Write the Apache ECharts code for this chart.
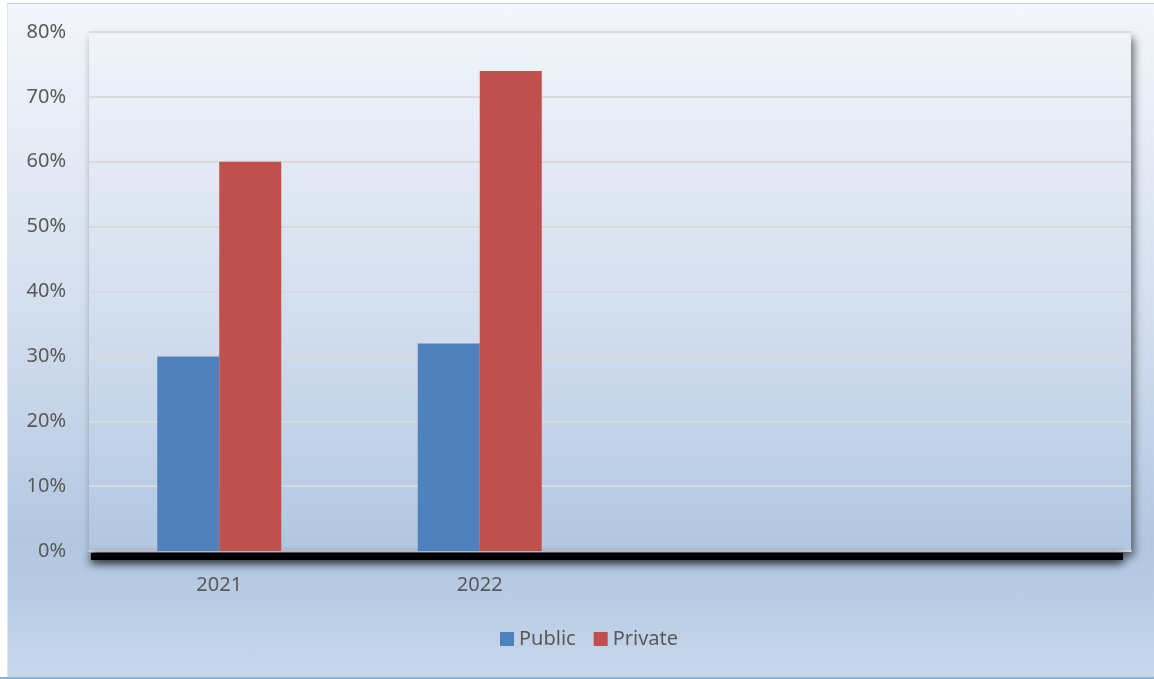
<!DOCTYPE html>
<html>
<head>
<meta charset="utf-8">
<script src="https://cdn.jsdelivr.net/npm/echarts@6/dist/echarts.min.js"></script>
<style>
  html, body { margin: 0; padding: 0; background: #ffffff; width: 1154px; height: 679px; overflow: hidden; }
  #frame {
    position: absolute; left: 7px; top: 3px; width: 1160px; height: 672px;
    border-left: 1px solid #dfe4ec; border-top: 1px solid #d2d2d2; border-bottom: 2px solid #d9d3cc;
    background: linear-gradient(to bottom, #f3f6fb 0%, #e2e9f4 25%, #d0dcec 50%, #b3c7e1 80%, #b8cbe3 88%, #c9d8eb 100%);
  }
  #strip { position: absolute; left: 0; top: 677px; width: 1154px; height: 2px; background: #8db3e2; }
  #chart { position: absolute; left: 0; top: 0; width: 1154px; height: 679px; }
</style>
</head>
<body>
<div id="frame"></div>
<div id="strip"></div>
<div id="chart"></div>
<script>
// Share of enrolment by sector, per year
const years = ['2021', '2022', '', ''];
const publicShare = [30, 32, null, null];
const privateShare = [60, 74, null, null];
const seriesNames = ['Public', 'Private'];
const yTicks = { min: 0, max: 80, step: 10 };

// plot panel placement
const panel = { left: 89, top: 32, width: 1042, height: 519 };

const chart = echarts.init(document.getElementById('chart'));

// same vertical gradient as the frame, in page coordinates
const panelFill = {
  type: 'linear', x: 0, y: 3, x2: 0, y2: 677, global: true,
  colorStops: [
    { offset: 0, color: '#f3f6fb' },
    { offset: 0.25, color: '#e2e9f4' },
    { offset: 0.5, color: '#d0dcec' },
    { offset: 0.8, color: '#b3c7e1' },
    { offset: 0.88, color: '#b8cbe3' },
    { offset: 1, color: '#c9d8eb' }
  ]
};

const textStyle = { color: '#595959', fontFamily: 'Noto Sans', fontSize: 20 };

chart.setOption({
  animation: false,
  grid: Object.assign({}, panel, {
    show: true,
    backgroundColor: panelFill,
    borderWidth: 0,
    shadowColor: 'rgba(0,0,0,0.55)',
    shadowBlur: 8,
    shadowOffsetX: 3,
    shadowOffsetY: 6
  }),
  // heavy drop shadow under the category axis
  graphic: [{
    type: 'rect',
    z: 1,
    silent: true,
    shape: { x: panel.left + 2, y: panel.top + panel.height + 2, width: panel.width - 10, height: 7 },
    style: { fill: '#000000', shadowBlur: 10, shadowColor: '#000000', shadowOffsetY: 3 }
  }],
  legend: {
    data: seriesNames,
    left: 495, top: 624,
    itemWidth: 14, itemHeight: 14, itemGap: 18,
    icon: 'rect',
    textStyle: textStyle
  },
  xAxis: {
    type: 'category',
    data: years,
    axisTick: { show: false },
    axisLabel: Object.assign({ margin: 24 }, textStyle),
    axisLine: { lineStyle: { color: '#d9d9d9', width: 2 } }
  },
  yAxis: {
    type: 'value',
    min: yTicks.min, max: yTicks.max, interval: yTicks.step,
    axisLine: { show: false },
    axisTick: { show: false },
    axisLabel: Object.assign({ margin: 23, formatter: '{value}%' }, textStyle),
    splitLine: { lineStyle: { color: '#dadada', width: 2 } }
  },
  series: [
    {
      name: seriesNames[0], type: 'bar', data: publicShare,
      barWidth: 62, barGap: '0%',
      itemStyle: { color: '#4f81bd' }
    },
    {
      name: seriesNames[1], type: 'bar', data: privateShare,
      barWidth: 62, barGap: '0%',
      itemStyle: { color: '#c0504d' }
    }
  ]
});
</script>
</body>
</html>
